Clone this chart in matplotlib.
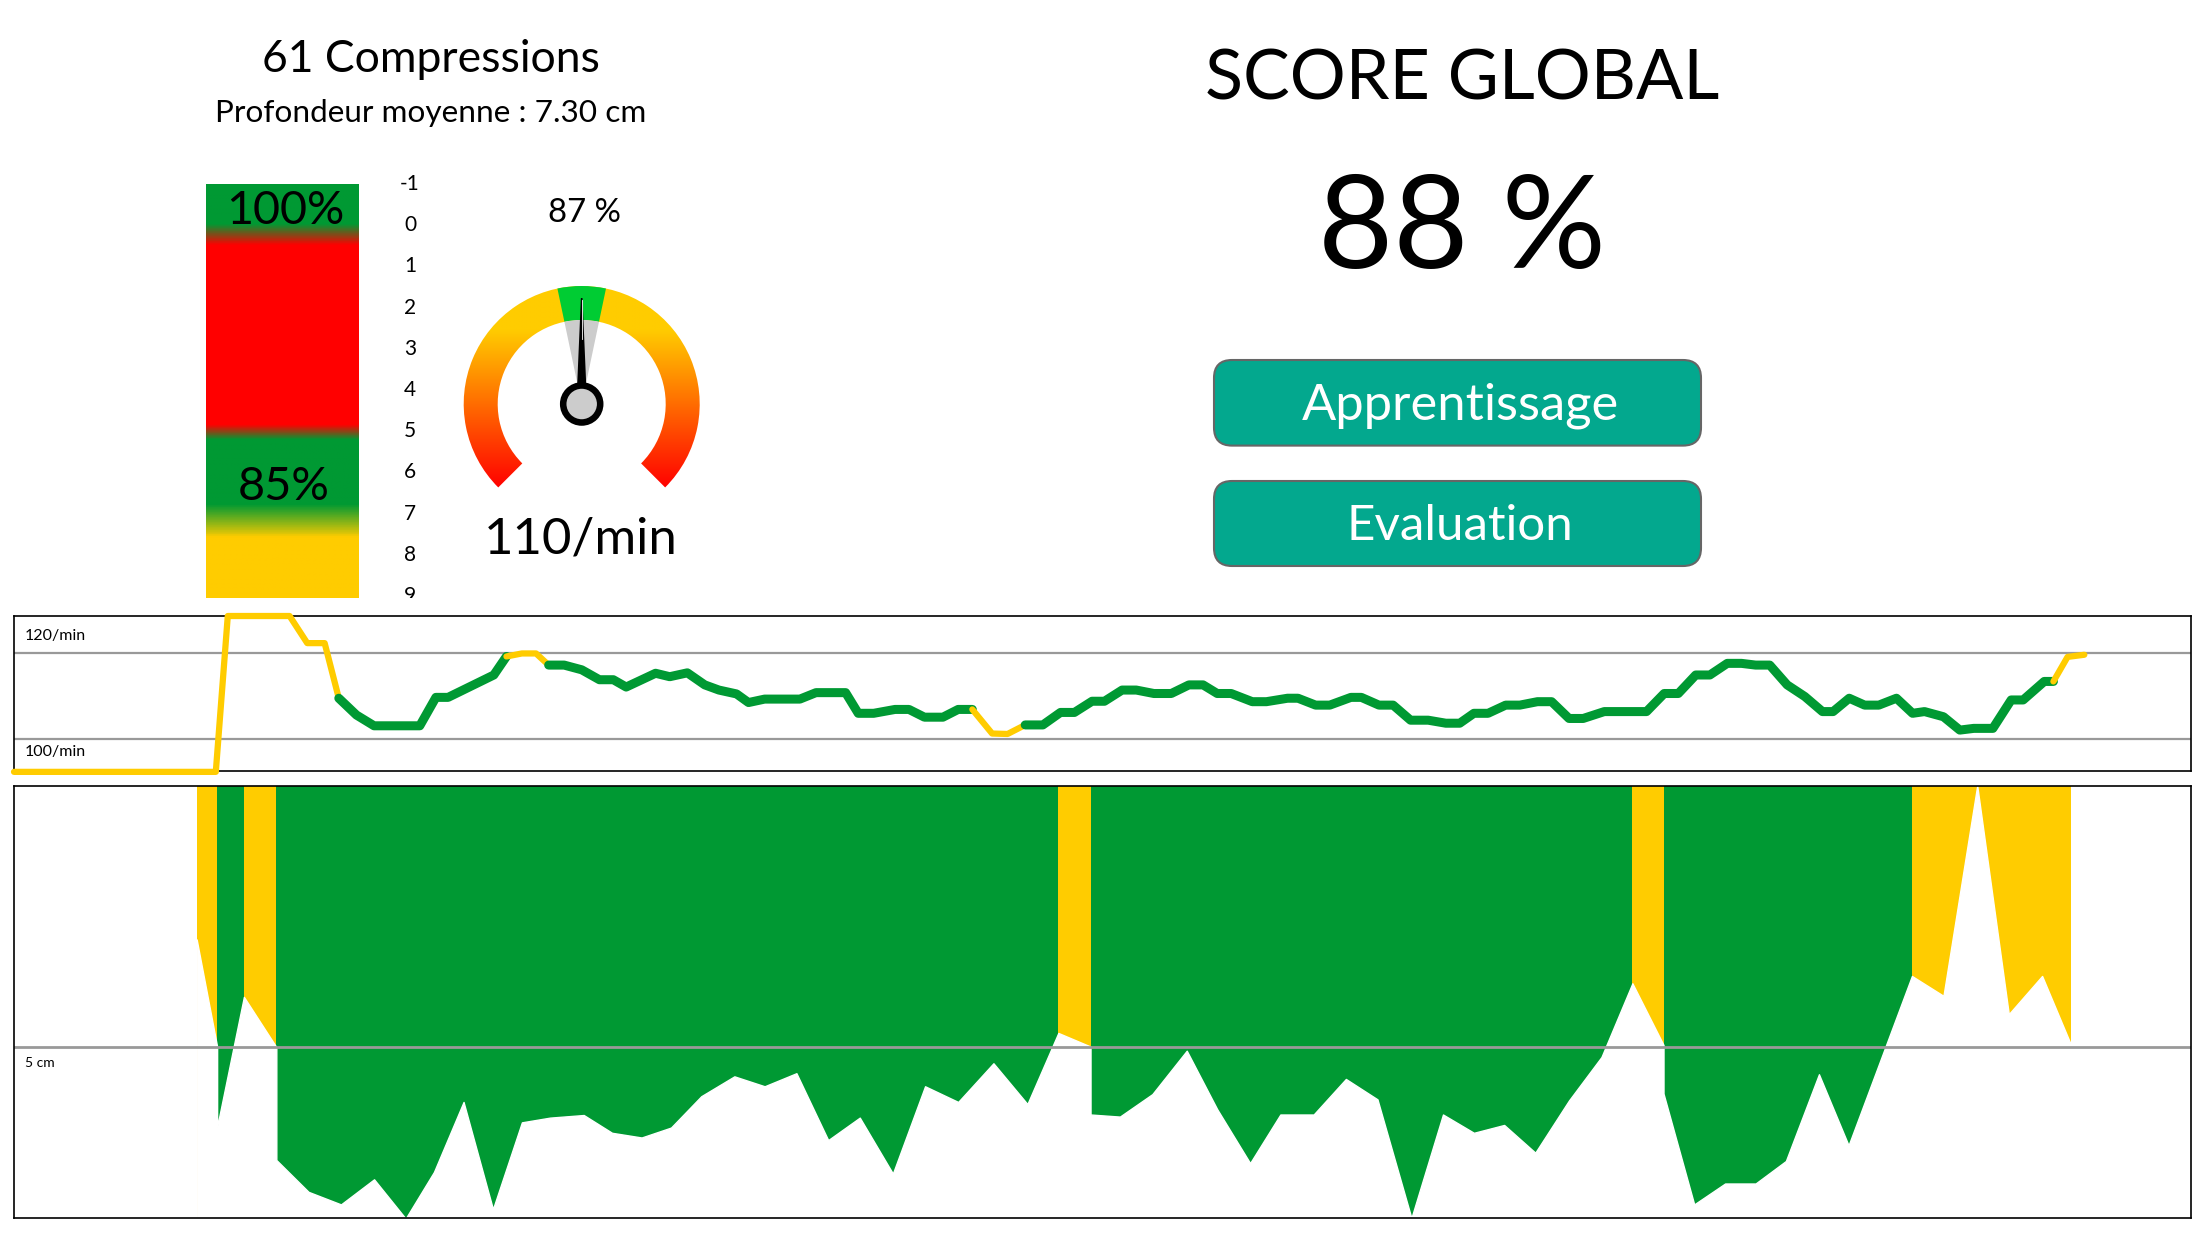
import numpy as np
import matplotlib
matplotlib.use('Agg')
import matplotlib.pyplot as plt
import matplotlib.transforms as mtransforms
from matplotlib.patches import Wedge, Circle, Polygon, FancyBboxPatch
from matplotlib.colors import LinearSegmentedColormap

plt.rcParams['font.family'] = ['Lato', 'DejaVu Sans']

W, H = 2208, 1242
GREEN = '#009933'
YELLOW = '#FFCC00'
RED = '#FF0000'
TEAL = '#03A88E'

# summary values
n_compressions = 61
mean_depth = 7.30
rate_score = 87
mean_rate = 110
global_score = 88
bar_top_label = '100%'
bar_mid_label = '85%'
button_labels = ['Apprentissage', 'Evaluation']

# depth scale beside the coloured bar (cm)
scale_ticks = [-1, 0, 1, 2, 3, 4, 5, 6, 7, 8, 9]
bar_stop_depth = [-1, -0.05, 0.45, 4.85, 5.2, 6.8, 7.6, 9.05]
bar_stop_color = [GREEN, GREEN, RED, RED, GREEN, GREEN, YELLOW, YELLOW]

# gauge (compressions / min)
gauge_min, gauge_max = 60, 160
gauge_ok = (105.6, 114.4)

# rate over time (x = % of session)
rate_t = [0.00, 9.27, 9.82, 12.66, 13.47, 14.27, 14.92, 15.73, 16.54, 18.64,
          19.38, 19.94, 22.04, 22.62, 23.33, 23.98, 24.56, 25.27, 26.08, 26.89,
          27.53, 28.12, 29.47, 30.12, 30.93, 31.73, 32.38, 33.19, 33.74, 34.48,
          36.10, 36.84, 38.20, 38.78, 39.49, 40.47, 41.11, 41.82, 42.67, 43.37,
          44.02, 44.93, 45.64, 46.45, 47.26, 48.07, 48.71, 49.52, 50.09, 50.90,
          51.55, 52.36, 53.16, 53.97, 54.62, 55.27, 55.91, 56.88, 57.53, 58.50,
          58.98, 59.79, 60.44, 61.41, 61.89, 62.70, 63.35, 64.15, 64.96, 65.77,
          66.41, 67.06, 67.71, 68.52, 69.17, 69.98, 70.63, 71.43, 72.08, 73.05,
          74.99, 75.80, 76.45, 77.25, 77.90, 78.70, 79.35, 80.00, 80.65, 81.45,
          82.26, 83.07, 83.56, 84.30, 85.01, 85.66, 86.47, 87.21, 87.76, 88.63,
          89.38, 90.02, 90.90, 91.74, 92.29, 93.26, 93.68, 94.33, 95.10]
rate_val = [92.3, 92.3, 128.5, 128.5, 122.2, 122.2, 109.4, 105.5, 103.0, 103.0,
            109.6, 109.6, 114.8, 119.1, 119.8, 119.8, 117.1, 117.1, 116.0, 113.7,
            113.7, 112.0, 115.2, 114.4, 115.3, 112.5, 111.3, 110.4, 108.4, 109.2,
            109.2, 110.7, 110.7, 105.9, 105.9, 106.8, 106.8, 105.0, 105.0, 106.8,
            106.8, 101.2, 101.1, 103.2, 103.2, 106.1, 106.1, 108.7, 108.7, 111.3,
            111.3, 110.5, 110.5, 112.5, 112.5, 110.5, 110.5, 108.6, 108.6, 109.4,
            109.4, 107.8, 107.8, 109.6, 109.6, 107.8, 107.8, 104.3, 104.3, 103.6,
            103.6, 105.9, 105.9, 107.8, 107.8, 108.6, 108.6, 104.7, 104.7, 106.3,
            106.3, 110.5, 110.5, 114.8, 114.8, 117.5, 117.5, 117.1, 117.1, 112.5,
            109.8, 106.3, 106.3, 109.4, 107.8, 107.8, 109.4, 105.9, 106.3, 105.1,
            102.0, 102.4, 102.4, 109.0, 109.0, 113.3, 113.3, 119.0, 119.5]
rate_warn_spans = [(0.0, 14.92), (22.62, 24.56), (44.02, 46.45), (93.68, 95.2)]

# depth profile (cm), repeated x where the colour changes
depth_t = [8.39, 9.33, 9.33, 10.56, 12.05, 12.05, 13.53, 15.02, 16.54, 17.99,
           19.29, 20.65, 22.00, 23.33, 24.62, 26.17, 27.47, 28.83, 30.18, 31.57,
           33.09, 34.48, 35.94, 37.40, 38.85, 40.37, 41.85, 43.37, 44.99, 46.55,
           47.97, 49.45, 49.45, 50.80, 52.29, 53.87, 55.27, 56.78, 58.17, 59.70,
           61.18, 62.63, 64.19, 65.64, 67.06, 68.45, 69.88, 71.43, 72.92, 74.34,
           75.77, 75.77, 77.18, 78.60, 80.00, 81.39, 82.91, 84.27, 87.18, 88.63,
           90.18, 91.63, 93.16, 94.49]
depth_cm = [2.94, 4.99, 6.53, 4.04, 5.00, 7.16, 7.77, 8.01, 7.53, 8.28,
            7.39, 6.05, 8.10, 6.44, 6.35, 6.30, 6.64, 6.73, 6.54, 5.94,
            5.56, 5.75, 5.50, 6.78, 6.35, 7.42, 5.75, 6.05, 5.31, 6.09,
            4.73, 4.99, 6.29, 6.33, 5.90, 5.07, 6.19, 7.22, 6.29, 6.29,
            5.61, 6.00, 8.27, 6.29, 6.64, 6.49, 7.02, 6.02, 5.19, 3.78,
            4.96, 5.89, 8.01, 7.61, 7.61, 7.18, 5.52, 6.88, 3.64, 4.02,
            0.00, 4.37, 3.64, 4.96]
depth_band_edges = [8.39, 9.33, 10.56, 12.05, 47.97, 49.45, 74.34, 75.77, 87.18, 94.49]
depth_band_ok = [False, True, False, True, False, True, False, True, False]


def px(x0, y0, x1, y1):
    return [x0 / W, 1 - y1 / H, (x1 - x0) / W, (y1 - y0) / H]


fig = plt.figure(figsize=(W / 100, H / 100), dpi=100)
renderer = fig.canvas.get_renderer()

# overlay in pixel coordinates for texts and buttons
ax0 = fig.add_axes([0, 0, 1, 1], zorder=10)
ax0.set_xlim(0, W)
ax0.set_ylim(H, 0)
ax0.axis('off')


def label(x, y, s, width, **kw):
    t = ax0.text(x, y, s, ha='center', va='baseline', fontsize=20, **kw)
    for _ in range(3):
        w = t.get_window_extent(renderer).width
        t.set_fontsize(t.get_fontsize() * width / w)
    return t


label(431, 72, f'{n_compressions} Compressions', 338)
label(431, 121.7, f'Profondeur moyenne : {mean_depth:.2f} cm', 430)
label(285, 224, bar_top_label, 118)
label(284, 500, bar_mid_label, 92)
label(585, 221.7, f'{rate_score} %', 73)
label(581, 553, f'{mean_rate}/min', 194)
label(1462, 100, 'SCORE GLOBAL', 515)
label(1462, 268, f'{global_score} %', 288)

for (y0, y1, base), s, wd in zip([(360, 445.6, 419.5), (481, 566, 539.5)],
                                 button_labels, [316, 227]):
    ax0.add_patch(FancyBboxPatch((1214, y0), 487, y1 - y0,
                                 boxstyle='round,pad=0,rounding_size=18',
                                 fc=TEAL, ec='#666666', lw=1.5))
    label(1460, base, s, wd, color='white')

# coloured depth bar
ax_bar = fig.add_axes(px(206, 184, 359, 598))
lo, hi = bar_stop_depth[0], bar_stop_depth[-1]
bar_cmap = LinearSegmentedColormap.from_list(
    'bar', [((d - lo) / (hi - lo), c) for d, c in zip(bar_stop_depth, bar_stop_color)])
ax_bar.imshow(np.linspace(lo, hi, 500)[:, None], aspect='auto', extent=(0, 1, hi, lo),
              cmap=bar_cmap, vmin=lo, vmax=hi, interpolation='bilinear')
ax_bar.set_xlim(0, 1)
ax_bar.set_ylim(hi, lo)
ax_bar.axis('off')

ax_sc = fig.add_axes(px(390, 140.7, 430, 598))
ax_sc.set_xlim(0, 1)
ax_sc.set_ylim(hi, lo - 1.05)
ax_sc.axis('off')
for d in scale_ticks:
    ax_sc.text(0.5, d, str(d), ha='center', va='center', fontsize=15, clip_on=True)

# gauge
ax_g = fig.add_axes(px(431.7, 254, 731.7, 554))


def rate_angle(r):
    return 225 - (r - gauge_min) / (gauge_max - gauge_min) * 270


ring = Wedge((0, 0), 118, -45, 225, width=34, fc='none', ec='none')
ax_g.add_patch(ring)
gauge_cmap = LinearSegmentedColormap.from_list('g', [RED, '#FF6600', YELLOW])
im = ax_g.imshow(np.linspace(-125, 125, 300)[:, None], extent=(-125, 125, -125, 125),
                 origin='lower', cmap=gauge_cmap, vmin=-85, vmax=75, aspect='auto',
                 interpolation='bilinear')
im.set_clip_path(ring)
a1, a2 = rate_angle(gauge_ok[1]), rate_angle(gauge_ok[0])
ax_g.add_patch(Wedge((0, 0), 118, a1, a2, width=34, fc='#00CC33', ec='none', zorder=2))
ax_g.add_patch(Wedge((0, 0), 84, a1, a2, fc='#CCCCCC', ec='none', zorder=2))
a = np.radians(rate_angle(mean_rate))
u = np.array([np.cos(a), np.sin(a)])
n = np.array([-np.sin(a), np.cos(a)])
needle = [20 * u + 4.5 * n, 106 * u + 0.8 * n, 106 * u - 0.8 * n, 20 * u - 4.5 * n]
ax_g.add_patch(Polygon(needle, closed=True, fc='black', ec='none', zorder=3))
ax_g.plot([65 * u[0] - 0.6 * n[0], 104 * u[0] - 0.6 * n[0]],
          [65 * u[1] - 0.6 * n[1], 104 * u[1] - 0.6 * n[1]], color='white', lw=0.6, zorder=3.5)
ax_g.add_patch(Circle((0, 0), 18.5, fc='#CCCCCC', ec='black', lw=4.7, zorder=4))
ax_g.set_xlim(-150, 150)
ax_g.set_ylim(-150, 150)
ax_g.axis('off')

# rate chart
ax_r = fig.add_axes(px(14, 616, 2191, 771))
ax_r.set_xlim(0, 100)
ax_r.set_ylim(92.5, 128.5)
ax_r.set_xticks([])
ax_r.set_yticks([])
for s in ax_r.spines.values():
    s.set_linewidth(1.2)
for v in (120, 100):
    ax_r.axhline(v, color='#999999', lw=1.6, zorder=1)
tr = mtransforms.blended_transform_factory(ax_r.transAxes, ax_r.transData)
ax_r.text(0.005, 123.9, '120/min', transform=tr, fontsize=11.5, va='center')
ax_r.text(0.005, 96.8, '100/min', transform=tr, fontsize=11.5, va='center')


def warn(t):
    return any(lo_ <= t < hi_ for lo_, hi_ in rate_warn_spans)


i = 0
while i < len(rate_t) - 1:
    j = i
    while j < len(rate_t) - 1 and warn(rate_t[j]) == warn(rate_t[i]):
        j += 1
    bad = warn(rate_t[i])
    ax_r.plot(rate_t[i:j + 1], rate_val[i:j + 1], color=YELLOW if bad else GREEN,
              lw=4.5 if bad else 6.5, solid_capstyle='round', solid_joinstyle='round',
              clip_on=False, zorder=3)
    i = j

# depth chart
ax_d = fig.add_axes(px(14, 785.7, 2191, 1218))
ax_d.set_xlim(0, 100)
ax_d.set_ylim(8.27, 0)
ax_d.set_xticks([])
ax_d.set_yticks([])
for s in ax_d.spines.values():
    s.set_linewidth(1.2)
for k, ok in enumerate(depth_band_ok):
    ax_d.axvspan(depth_band_edges[k], depth_band_edges[k + 1],
                 color=GREEN if ok else YELLOW, lw=0, zorder=1)
ax_d.fill_between(depth_t, depth_cm, 10, facecolor='white', edgecolor='white',
                  lw=1.0, zorder=1.5)
ax_d.axhline(5, color='#999999', lw=2, zorder=2)
trd = mtransforms.blended_transform_factory(ax_d.transAxes, ax_d.transData)
ax_d.text(0.005, 5.31, '5 cm', transform=trd, fontsize=10, va='center')

fig.savefig('out.png', dpi=100)
